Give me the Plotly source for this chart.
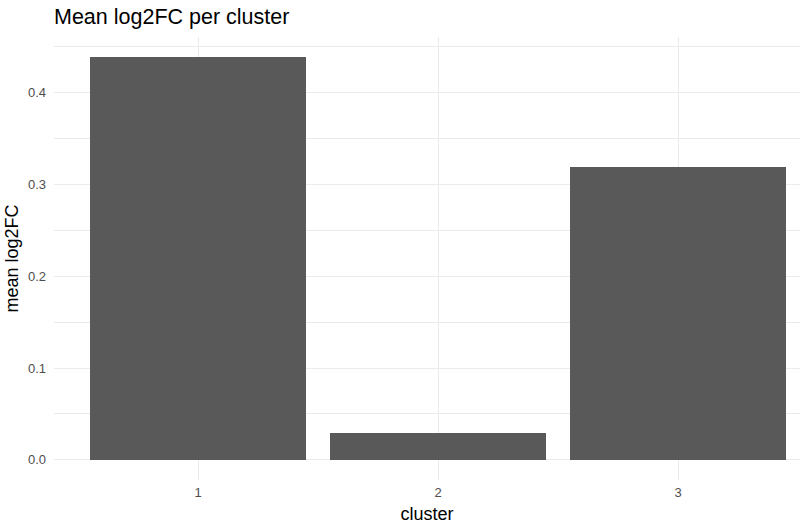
import plotly.graph_objects as go

# mean log2FC per cluster
clusters = ["1", "2", "3"]
mean_log2fc = [0.4385, 0.0294, 0.319]

y_ticks = [0.0, 0.1, 0.2, 0.3, 0.4]
y_tick_labels = ["0.0", "0.1", "0.2", "0.3", "0.4"]

grid = "#EBEBEB"
text_grey = "#4D4D4D"

fig = go.Figure(go.Bar(
    x=[1, 2, 3],
    y=mean_log2fc,
    width=0.9,
    marker=dict(color="#595959", line=dict(width=0)),
    hoverinfo="skip",
))

fig.update_layout(
    width=800, height=525,
    margin=dict(l=54, r=0, t=37, b=45),
    paper_bgcolor="white", plot_bgcolor="white",
    font=dict(family="Liberation Sans, Arial, sans-serif", color="black"),
    showlegend=False,
    title=dict(text="Mean log2FC per cluster", x=54 / 800, xanchor="left",
               xref="container", y=1 - 16 / 525, yanchor="middle",
               yref="container", font=dict(size=21.5, color="black")),
    bargap=0,
)

fig.update_xaxes(
    range=[0.4, 0.4 + 746 / 240],
    tickmode="array", tickvals=[1, 2, 3], ticktext=clusters,
    showgrid=True, gridcolor=grid, gridwidth=1.3,
    zeroline=False, showline=False, ticks="",
    tickfont=dict(size=13, color=text_grey),
    ticklabelstandoff=3, automargin=False,
    title=dict(text="cluster", font=dict(size=18, color="black"), standoff=8),
)

fig.update_yaxes(
    range=[-0.0219, 0.4604],
    tickmode="array", tickvals=y_ticks, ticktext=y_tick_labels,
    showgrid=True, gridcolor=grid, gridwidth=1.3,
    minor=dict(dtick=0.05, tick0=0, showgrid=True, gridcolor=grid, gridwidth=0.7, ticks=""),
    zeroline=False, showline=False, ticks="",
    tickfont=dict(size=13, color=text_grey),
    ticklabelstandoff=7, automargin=False,
    title=dict(text="mean log2FC", font=dict(size=18, color="black"), standoff=4),
)

# drop the default 8px page margin so the figure sits at the window corner
fig.write_html("out.html", config={"displayModeBar": False},
               post_script="document.body.style.margin='0';")
